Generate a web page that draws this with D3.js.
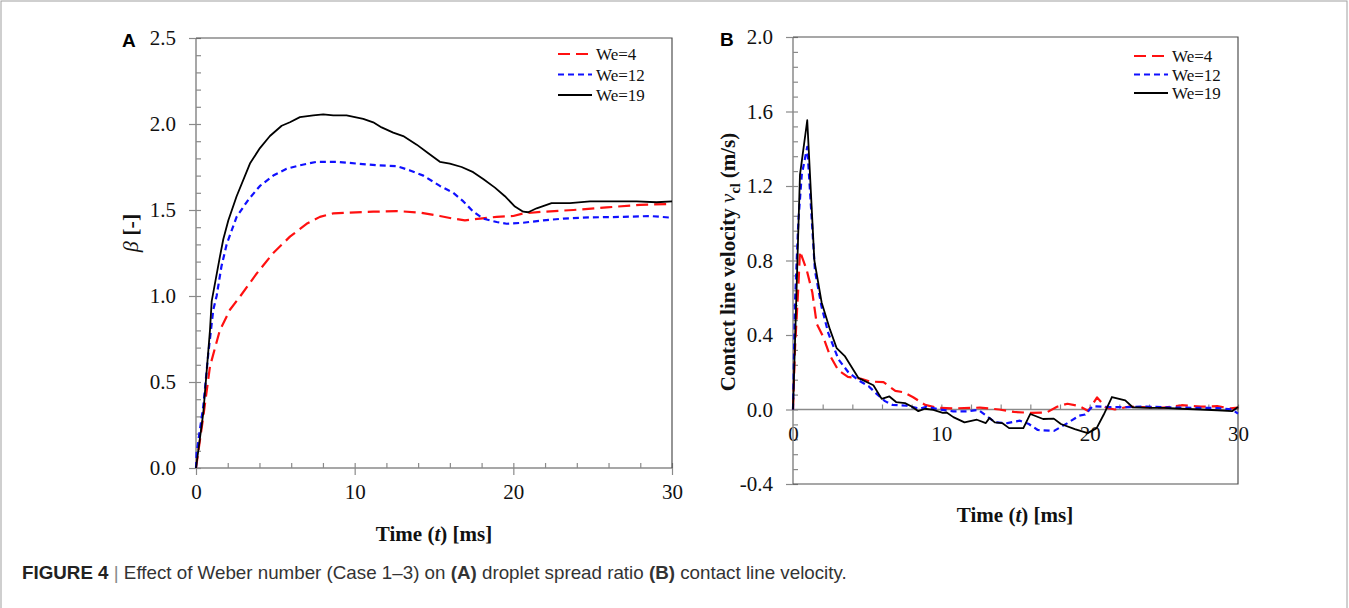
<!DOCTYPE html>
<html>
<head>
<meta charset="utf-8">
<script src="https://cdn.jsdelivr.net/npm/d3@7"></script>
<style>
  body { margin: 0; background: #fff; }
  svg { display: block; }
  .tick text { font-family: "Liberation Serif", "Times New Roman", serif; font-size: 21px; fill: #111; }
</style>
</head>
<body>
<script>
// Panel A: spread ratio beta vs time [ms], pairs of [t, beta]
var aWe4 = [[0,0],[0.46,0.30],[0.88,0.59],[1.5,0.80],[2.14,0.92],[2.8,1.0],[3.82,1.13],[4.87,1.25],[5.92,1.345],[6.97,1.42],[7.81,1.46],[8.65,1.48],[9.7,1.485],[11.17,1.49],[12.65,1.494],[14.11,1.485],[15.37,1.465],[16.21,1.45],[16.95,1.44],[17.9,1.45],[18.95,1.46],[20.0,1.465],[20.62,1.48],[21.89,1.49],[23.78,1.50],[25.88,1.515],[27.98,1.53],[30,1.535]];
var aWe12 = [[0,0],[0.04,0.09],[0.46,0.36],[0.78,0.67],[1.09,0.92],[1.3,1.0],[1.6,1.17],[1.93,1.30],[2.56,1.46],[3.3,1.56],[4.03,1.64],[4.87,1.70],[5.71,1.74],[6.55,1.76],[7.6,1.78],[8.87,1.78],[10.13,1.77],[11.38,1.76],[12.65,1.755],[13.49,1.73],[14.33,1.70],[15.37,1.64],[16.21,1.60],[16.85,1.55],[17.48,1.49],[18.1,1.45],[18.95,1.43],[19.58,1.42],[20.62,1.426],[21.89,1.44],[23.15,1.45],[24.83,1.457],[26.93,1.46],[28.61,1.465],[30,1.455]];
var aWe19 = [[0,0],[0.46,0.32],[0.88,0.80],[0.99,0.97],[1.51,1.23],[1.72,1.33],[2.04,1.44],[2.56,1.58],[3.4,1.77],[4.03,1.86],[4.66,1.93],[5.4,1.99],[5.92,2.01],[6.55,2.04],[7.39,2.05],[8.02,2.056],[8.65,2.05],[9.49,2.05],[10.54,2.03],[11.17,2.01],[11.7,1.98],[12.43,1.95],[13.06,1.93],[13.91,1.88],[14.64,1.83],[15.37,1.78],[16.0,1.77],[16.74,1.75],[17.47,1.72],[18.1,1.68],[18.84,1.63],[19.47,1.58],[20.1,1.52],[20.62,1.49],[20.94,1.487],[21.47,1.51],[22.41,1.54],[23.57,1.54],[24.83,1.55],[26.09,1.55],[27.77,1.55],[29.03,1.545],[30,1.55]];

// Panel B: contact line velocity [m/s] vs time [ms]
var bWe4 = [[0,0],[0.13,0.32],[0.36,0.66],[0.47,0.85],[0.92,0.75],[1.3,0.63],[1.6,0.46],[2.04,0.39],[2.49,0.29],[3.06,0.21],[3.7,0.175],[4.6,0.165],[5.2,0.15],[6.1,0.147],[6.9,0.10],[7.44,0.093],[8.1,0.066],[8.9,0.025],[9.7,0.01],[10.8,0.006],[12.6,0.01],[13.9,0.0],[14.9,-0.013],[16.0,-0.018],[17.1,-0.016],[17.8,0.015],[18.5,0.031],[19.3,0.018],[19.9,-0.008],[20.5,0.065],[21.1,0.01],[21.7,0.0],[22.6,0.015],[25.0,0.01],[26.2,0.023],[27.5,0.015],[28.6,0.018],[29.5,0.006],[30,0.01]];
var bWe12 = [[0,0],[0.13,0.57],[0.36,1.01],[0.59,1.26],[0.96,1.41],[1.48,0.745],[1.93,0.55],[2.38,0.41],[3.06,0.27],[3.73,0.20],[4.45,0.155],[5.1,0.125],[5.64,0.084],[6.2,0.045],[6.7,0.025],[7.66,0.02],[8.56,0.004],[9.0,0.015],[9.9,0.0],[10.8,-0.01],[11.7,-0.01],[12.5,-0.002],[13.06,-0.035],[13.6,-0.068],[14.45,-0.073],[15.3,-0.06],[15.9,-0.078],[16.5,-0.11],[17.6,-0.115],[18.5,-0.073],[19.3,-0.033],[19.7,-0.027],[20.2,0.018],[21.4,0.013],[22.6,0.013],[23.8,0.016],[25.0,0.012],[26.2,0.01],[27.45,0.009],[28.6,0.008],[29.6,0.0],[30,-0.022]];
var bWe19 = [[0,0],[0.47,1.26],[0.96,1.553],[1.44,0.80],[1.93,0.575],[2.49,0.43],[2.94,0.33],[3.51,0.285],[3.96,0.227],[4.4,0.17],[5.42,0.13],[5.98,0.057],[6.5,0.07],[6.95,0.04],[7.55,0.034],[8.0,0.016],[8.45,-0.009],[8.9,0.004],[9.46,-0.002],[10.1,-0.018],[10.36,-0.016],[10.81,-0.041],[11.56,-0.069],[12.4,-0.055],[13.0,-0.073],[13.25,-0.045],[13.6,-0.069],[14.1,-0.073],[14.57,-0.10],[15.53,-0.10],[16.0,-0.024],[16.86,-0.051],[17.58,-0.049],[18.06,-0.078],[19.0,-0.105],[19.87,-0.127],[20.47,-0.10],[20.95,-0.027],[21.5,0.067],[22.4,0.049],[22.9,0.012],[24.1,0.009],[25.0,0.009],[26.2,0.004],[27.45,0.0],[28.6,-0.004],[29.6,-0.009],[30,0.013]];

var legendNames = ["We=4", "We=12", "We=19"];
var xTicks = [0, 10, 20, 30];
var yTicksA = [0, 0.5, 1.0, 1.5, 2.0, 2.5];
var yTicksB = [-0.4, 0, 0.4, 0.8, 1.2, 1.6, 2.0];

// line styles for the three Weber numbers
var styles = [
  {color: "#ff1010", dash: "12,6", width: 2.2},
  {color: "#1010ff", dash: "6,4", width: 2.2},
  {color: "#000000", dash: null, width: 1.8}
];

var svg_width = 1349, svg_height = 608;
var svg = d3.select("body").append("svg")
  .attr("width", svg_width)
  .attr("height", svg_height);

// outer frame of the figure
svg.append("rect")
  .attr("x", 1).attr("y", 1)
  .attr("width", 1346).attr("height", 640)
  .attr("fill", "none").attr("stroke", "#a0a0a0").attr("stroke-width", 1);

var serif = '"Liberation Serif", "Times New Roman", serif';
var sans = '"Liberation Sans", Arial, sans-serif';
var axisGray = "#8a8a8a";

// plain hyphen for negatives, like the original figure
var fmt1 = d => d.toFixed(1);

function styleAxis(g) {
  g.select(".domain").remove();
  g.selectAll(".tick line").attr("stroke", axisGray).attr("stroke-width", 1.2);
}

function drawLines(g, x, y, series) {
  var line = d3.line().x(d => x(d[0])).y(d => y(d[1]));
  series.forEach(function(s, i) {
    g.append("path")
      .datum(s)
      .attr("fill", "none")
      .attr("stroke", styles[i].color)
      .attr("stroke-width", styles[i].width)
      .attr("stroke-dasharray", styles[i].dash)
      .attr("stroke-linejoin", "round")
      .attr("d", line);
  });
}

function drawLegend(x0, y0, dy) {
  legendNames.forEach(function(name, i) {
    svg.append("line")
      .attr("x1", x0).attr("x2", x0 + 34)
      .attr("y1", y0 + i * dy).attr("y2", y0 + i * dy)
      .attr("stroke", styles[i].color)
      .attr("stroke-width", styles[i].width)
      .attr("stroke-dasharray", styles[i].dash);
    svg.append("text")
      .attr("x", x0 + 38).attr("y", y0 + i * dy + 6)
      .attr("font-family", serif).attr("font-size", 17)
      .attr("fill", "#111")
      .text(name);
  });
}

// ---------- Panel A ----------
var xA = d3.scaleLinear().domain([0, 30]).range([196, 672]);
var yA = d3.scaleLinear().domain([0, 2.5]).range([468, 38]);

// minor ticks (inside)
svg.append("g").attr("transform", "translate(196,0)")
  .call(d3.axisRight(yA).tickValues(d3.range(0, 2.51, 0.1)).tickSize(5).tickFormat(""))
  .call(styleAxis);
svg.append("g").attr("transform", "translate(0,468)")
  .call(d3.axisTop(xA).tickValues(d3.range(0, 30.1, 2)).tickSize(5).tickFormat(""))
  .call(styleAxis);
// major ticks (outside) with labels
svg.append("g").attr("transform", "translate(196,0)")
  .call(d3.axisLeft(yA).tickValues(yTicksA).tickSize(7).tickPadding(13).tickFormat(fmt1))
  .call(styleAxis);
svg.append("g").attr("transform", "translate(0,468)")
  .call(d3.axisBottom(xA).tickValues(xTicks).tickSize(7).tickPadding(9).tickFormat(d3.format("d")))
  .call(styleAxis);

// frame: gray left/bottom axis, dark top/right
svg.append("line").attr("x1", 196).attr("x2", 196).attr("y1", 38).attr("y2", 468)
  .attr("stroke", axisGray).attr("stroke-width", 1.5);
svg.append("line").attr("x1", 196).attr("x2", 672).attr("y1", 468).attr("y2", 468)
  .attr("stroke", axisGray).attr("stroke-width", 1.5);
svg.append("path").attr("d", "M196,38H672V468")
  .attr("fill", "none").attr("stroke", "#505050").attr("stroke-width", 1.2);

var plotA = svg.append("g");
drawLines(plotA, xA, yA, [aWe4, aWe12, aWe19]);
drawLegend(558, 54, 20.5);

// titles A
svg.append("text")
  .attr("x", 122).attr("y", 47)
  .attr("font-family", sans).attr("font-weight", "bold").attr("font-size", 19)
  .text("A");

svg.append("text")
  .attr("transform", "translate(138,233) rotate(-90)")
  .attr("text-anchor", "middle")
  .attr("font-family", serif).attr("font-size", 22).attr("fill", "#111")
  .call(function(t) {
    t.append("tspan").attr("font-style", "italic").text("β");
    t.append("tspan").attr("font-weight", "bold").text(" [-]");
  });

function timeTitle(x, y) {
  svg.append("text")
    .attr("x", x).attr("y", y)
    .attr("text-anchor", "middle")
    .attr("font-family", serif).attr("font-weight", "bold").attr("font-size", 21)
    .attr("fill", "#111")
    .call(function(t) {
      t.append("tspan").text("Time (");
      t.append("tspan").attr("font-style", "italic").text("t");
      t.append("tspan").text(") [ms]");
    });
}
timeTitle(434, 541);

// ---------- Panel B ----------
var xB = d3.scaleLinear().domain([0, 30]).range([793, 1238]);
var yB = d3.scaleLinear().domain([-0.4, 2.0]).range([484, 37]);

svg.append("g").attr("transform", "translate(793,0)")
  .call(d3.axisRight(yB).tickValues(d3.range(-0.4, 2.001, 0.08)).tickSize(5).tickFormat(""))
  .call(styleAxis);
svg.append("g").attr("transform", "translate(0," + yB(0) + ")")
  .call(d3.axisTop(xB).tickValues(d3.range(0, 30.1, 2)).tickSize(5).tickFormat(""))
  .call(styleAxis);
svg.append("g").attr("transform", "translate(793,0)")
  .call(d3.axisLeft(yB).tickValues(yTicksB).tickSize(7).tickPadding(13).tickFormat(fmt1))
  .call(styleAxis);
svg.append("g").attr("transform", "translate(0," + yB(0) + ")")
  .call(d3.axisBottom(xB).tickValues(xTicks).tickSize(0).tickPadding(17).tickFormat(d3.format("d")))
  .call(styleAxis);

svg.append("line").attr("x1", 793).attr("x2", 793).attr("y1", 37).attr("y2", 484)
  .attr("stroke", axisGray).attr("stroke-width", 1.5);
svg.append("line").attr("x1", 793).attr("x2", 1238).attr("y1", yB(0)).attr("y2", yB(0))
  .attr("stroke", axisGray).attr("stroke-width", 1.5);
svg.append("path").attr("d", "M793,37H1238V484H793")
  .attr("fill", "none").attr("stroke", "#505050").attr("stroke-width", 1.2);

var plotB = svg.append("g");
drawLines(plotB, xB, yB, [bWe4, bWe12, bWe19]);
drawLegend(1134, 56, 18.5);

svg.append("text")
  .attr("x", 720).attr("y", 46)
  .attr("font-family", sans).attr("font-weight", "bold").attr("font-size", 19)
  .text("B");

svg.append("text")
  .attr("transform", "translate(735,262) rotate(-90)")
  .attr("text-anchor", "middle")
  .attr("font-family", serif).attr("font-weight", "bold").attr("font-size", 21)
  .attr("fill", "#111")
  .call(function(t) {
    t.append("tspan").text("Contact line velocity ");
    t.append("tspan").attr("font-style", "italic").attr("font-weight", "normal").text("v");
    t.append("tspan").attr("font-size", 14).attr("dy", 5).text("cl");
    t.append("tspan").attr("dy", -5).text(" (m/s)");
  });

timeTitle(1015, 522);

// ---------- caption ----------
var cap = svg.append("text")
  .attr("x", 22).attr("y", 579)
  .attr("font-family", sans).attr("font-size", 16)
  .attr("fill", "#333");
cap.append("tspan").attr("font-weight", "bold").attr("fill", "#222").text("FIGURE 4");
cap.append("tspan").attr("fill", "#888").text(" | ");
cap.append("tspan").text("Effect of Weber number (Case 1–3) on ");
cap.append("tspan").attr("font-weight", "bold").text("(A)");
cap.append("tspan").text(" droplet spread ratio ");
cap.append("tspan").attr("font-weight", "bold").text("(B)");
cap.append("tspan").text(" contact line velocity.");

// fit caption to width seen in the figure
var capLen = cap.node().getComputedTextLength();
cap.attr("font-size", 16 * 825 / capLen);
</script>
</body>
</html>
